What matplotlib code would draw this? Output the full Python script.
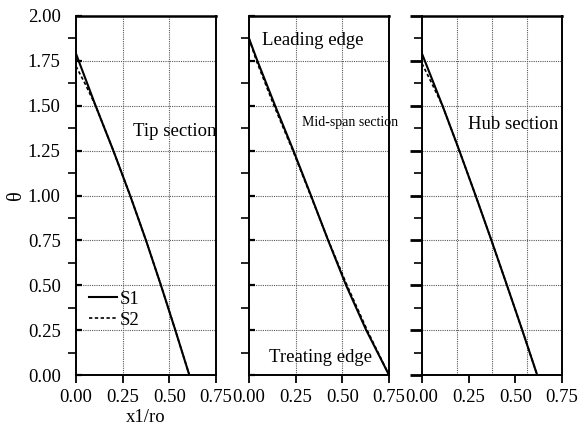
import matplotlib
matplotlib.use("Agg")
import matplotlib.pyplot as plt

plt.rcParams["font.family"] = ["Liberation Serif", "DejaVu Serif"]

# curves: x1/ro vs theta, one pair per section
tip_s1_x = [0.0, 0.105, 0.200, 0.290, 0.375, 0.455, 0.532, 0.607]
tip_s1_y = [1.79, 1.50, 1.25, 1.00, 0.75, 0.50, 0.25, 0.00]
tip_s2_x = [0.0, 0.05, 0.105, 0.200, 0.290, 0.375, 0.455, 0.532, 0.607]
tip_s2_y = [1.72, 1.62, 1.50, 1.25, 1.00, 0.75, 0.50, 0.25, 0.00]

mid_s1_x = [0.0, 0.045, 0.140, 0.238, 0.332, 0.424, 0.520, 0.628, 0.75]
mid_s1_y = [1.875, 1.75, 1.50, 1.25, 1.00, 0.75, 0.50, 0.25, 0.00]
mid_s2_x = [0.0, 0.040, 0.134, 0.235, 0.330, 0.425, 0.525, 0.633, 0.75]
mid_s2_y = [1.875, 1.75, 1.50, 1.25, 1.00, 0.75, 0.50, 0.25, 0.00]

hub_s1_x = [0.0, 0.110, 0.200, 0.287, 0.372, 0.455, 0.537, 0.617]
hub_s1_y = [1.79, 1.50, 1.25, 1.00, 0.75, 0.50, 0.25, 0.00]
hub_s2_x = [0.0, 0.05, 0.110, 0.200, 0.287, 0.372, 0.455, 0.537, 0.617]
hub_s2_y = [1.735, 1.63, 1.50, 1.25, 1.00, 0.75, 0.50, 0.25, 0.00]

x_ticks = [0.0, 0.25, 0.5, 0.75]
x_ticklabels = ["0.00", "0.25", "0.50", "0.75"]
y_ticks = [0.0, 0.25, 0.5, 0.75, 1.0, 1.25, 1.5, 1.75, 2.0]
y_ticklabels = ["0.00", "0.25", "0.50", "0.75", "1.00", "1.25", "1.50", "1.75", "2.00"]
y_minor = [0.125, 0.375, 0.625, 0.875, 1.125, 1.375, 1.625, 1.875]

h_grid = [0.25, 0.5, 0.75, 1.0, 1.25, 1.5, 1.75]
v_grids = [[0.25, 0.5], [0.25, 0.5], [0.1875, 0.375, 0.5625]]

FS = 13.5
GRID_KW = dict(color="0.35", lw=0.8, ls=(0, (1, 1)), zorder=1)

fig = plt.figure(figsize=(5.82, 4.33), dpi=100)
lefts = [76 / 582, 249 / 582, 422 / 582]
axes = [fig.add_axes([l, 1 - 375 / 433, 140 / 582, 359 / 433]) for l in lefts]

curves = [
    (tip_s1_x, tip_s1_y, tip_s2_x, tip_s2_y),
    (mid_s1_x, mid_s1_y, mid_s2_x, mid_s2_y),
    (hub_s1_x, hub_s1_y, hub_s2_x, hub_s2_y),
]

for i, ax in enumerate(axes):
    s1x, s1y, s2x, s2y = curves[i]
    ax.plot(s1x, s1y, color="black", lw=1.5, label="S1", zorder=3)
    ax.plot(s2x, s2y, color="black", lw=1.2, ls=(0, (2, 1.5)), label="S2", zorder=2)

    for g in h_grid:
        ax.axhline(g, **GRID_KW)
    for g in v_grids[i]:
        ax.axvline(g, **GRID_KW)

    ax.set_xlim(0, 0.75)
    ax.set_ylim(0, 2)
    ax.set_xticks(x_ticks)
    ax.set_xticklabels(x_ticklabels)
    ax.set_yticks(y_ticks)
    ax.set_yticks(y_minor, minor=True)
    ax.tick_params(axis="x", direction="out", length=6, width=1.3,
                   labelsize=FS, pad=4)
    ax.tick_params(axis="x", which="minor", length=0)
    if i == 2:
        ax.tick_params(axis="y", which="major", direction="out", length=9, width=2)
    else:
        ax.tick_params(axis="y", which="major", direction="in", length=4, width=1.6)
    ax.tick_params(axis="y", which="minor", direction="out", length=6, width=1.2)
    if i == 0:
        ax.set_yticklabels(y_ticklabels)
        ax.tick_params(axis="y", labelsize=FS, pad=11)
    else:
        ax.tick_params(axis="y", labelleft=False)
    for sp in ax.spines.values():
        sp.set_linewidth(1.4)
    ax.spines["top"].set_linewidth(1.8)

ax1, ax2, ax3 = axes
ax1.set_xlabel("x1/ro", fontsize=FS, labelpad=2)
ax1.set_ylabel("θ", fontsize=FS + 1, rotation=90)
ax1.yaxis.set_label_coords(-0.36, 0.5)
ax1.legend(loc="upper left", bbox_to_anchor=(0.09, 0.235), frameon=False,
           fontsize=FS, handlelength=1.5, handletextpad=0.15,
           labelspacing=0.2, borderpad=0, borderaxespad=0)

ax1.text(0.305, 1.355, "Tip section", fontsize=FS, va="center", ha="left")
ax2.text(0.07, 1.862, "Leading edge", fontsize=FS, va="center", ha="left")
ax2.text(0.282, 1.404, "Mid-span section", fontsize=10, va="center", ha="left",
         clip_on=False)
ax2.text(0.107, 0.095, "Treating edge", fontsize=FS, va="center", ha="left")
ax3.text(0.246, 1.398, "Hub section", fontsize=FS, va="center", ha="left")

fig.savefig("out.png", dpi=100)
